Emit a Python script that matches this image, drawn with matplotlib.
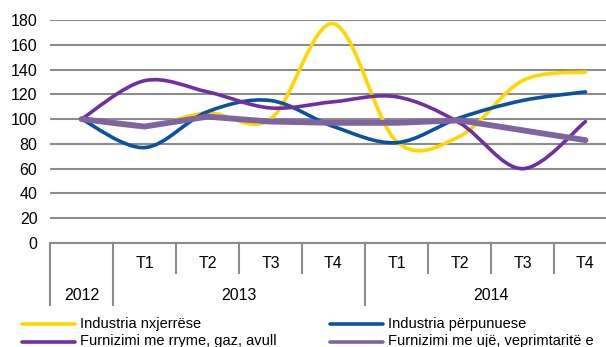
import numpy as np
import matplotlib
matplotlib.use("Agg")
import matplotlib.pyplot as plt
from matplotlib.path import Path
from matplotlib.patches import PathPatch
from matplotlib.lines import Line2D
import matplotlib.transforms as mtransforms

plt.rcParams['font.family'] = ['Liberation Sans', 'DejaVu Sans']

# quarterly indices, 2012 = 100
periods = ['2012', 'T1', 'T2', 'T3', 'T4', 'T1', 'T2', 'T3', 'T4']
years = ['2012', '2013', '2014']
year_spans = [(0, 0), (1, 4), (5, 8)]

nxjerrese = [100, 94, 105, 100, 177, 82, 86, 131, 138]
perpunuese = [100, 77, 106, 115, 94, 81, 101, 115, 122]
rryme_gaz = [100, 131, 122, 109, 114, 118, 97, 60, 98]
uje_mbetje = [100, 94, 102, 98, 97, 97, 99, 91, 83]

names = ['Industria nxjerrëse', 'Industria përpunuese',
         'Furnizimi me rryme, gaz, avull', 'Furnizimi me ujë, veprimtaritë e']
colors = ['#FFD700', '#0A52A0', '#7030A0', '#8064A2']

W, H = 606, 347
fig = plt.figure(figsize=(W / 100, H / 100), dpi=100)

def fx(px):
    return px / W

def fy(py):
    return 1 - py / H

ax = fig.add_axes([fx(50), fy(243), fx(617) - fx(50), fy(20) - fy(243)])
ax.set_xlim(-0.5, len(periods) - 0.5)
ax.set_ylim(0, 180)
ax.set_yticks(np.arange(0, 181, 20))
ax.set_xticks([])
ax.tick_params(axis='y', length=0, pad=9, labelsize=11.5)
for s in ['left', 'right', 'top']:
    ax.spines[s].set_visible(False)
ax.spines['bottom'].set_color('#8c8c8c')
ax.spines['bottom'].set_linewidth(1.5)
ax.grid(axis='y', color='#8c8c8c', linewidth=1.5)
ax.set_axisbelow(True)


def smooth_path(xs, ys):
    # bezier through the points, like a spreadsheet "smoothed line"
    n = len(xs)
    verts = [(xs[0], ys[0])]
    codes = [Path.MOVETO]
    for i in range(n - 1):
        a = i - 1 if i > 0 else i
        d = i + 2 if i + 2 < n else i + 1
        c1 = (xs[i] + (xs[i + 1] - xs[a]) / 6, ys[i] + (ys[i + 1] - ys[a]) / 6)
        c2 = (xs[i + 1] - (xs[d] - xs[i]) / 6, ys[i + 1] - (ys[d] - ys[i]) / 6)
        verts += [c1, c2, (xs[i + 1], ys[i + 1])]
        codes += [Path.CURVE4] * 3
    return Path(verts, codes)


x = np.arange(len(periods))
for i, ys in enumerate([nxjerrese, perpunuese, rryme_gaz]):
    patch = PathPatch(smooth_path(x, ys), facecolor='none', edgecolor=colors[i],
                      linewidth=2.6, capstyle='round', joinstyle='round', zorder=3 + i)
    ax.add_patch(patch)
ax.plot(x, uje_mbetje, color=colors[3], linewidth=4.2, solid_capstyle='round',
        solid_joinstyle='round', zorder=6)

# category table under the axis
trans = mtransforms.blended_transform_factory(ax.transData, ax.transAxes)
short_y = -30 / 223
long_y = -62 / 223
for b in np.arange(-0.5, len(periods), 1.0):
    bottom = long_y if b in (-0.5, 0.5, 4.5, 8.5) else short_y
    ax.add_line(Line2D([b, b], [0, bottom], transform=trans, color='#8c8c8c',
                       linewidth=1.5, clip_on=False))
for i, lab in enumerate(periods):
    if i == 0:
        continue
    ax.text(i, -20 / 223, lab, transform=trans, ha='center', va='center', fontsize=11.5)
for lab, (a, b) in zip(years, year_spans):
    ax.text((a + b) / 2, -52 / 223, lab, transform=trans, ha='center', va='center',
            fontsize=11.5)

# legend, two columns
leg_pos = [(21.5, 75, 80, 324), (330, 383, 388, 324),
           (21.5, 75, 80, 341.5), (330, 383, 388, 341.5)]
for (x0, x1, tx, ty), name, c in zip(leg_pos, names, colors):
    fig.add_artist(Line2D([fx(x0), fx(x1)], [fy(ty), fy(ty)], transform=fig.transFigure,
                          color=c, linewidth=2.6, solid_capstyle='round'))
    fig.text(fx(tx), fy(ty), name, ha='left', va='center', fontsize=10.5)

fig.savefig('out.png', dpi=100)
